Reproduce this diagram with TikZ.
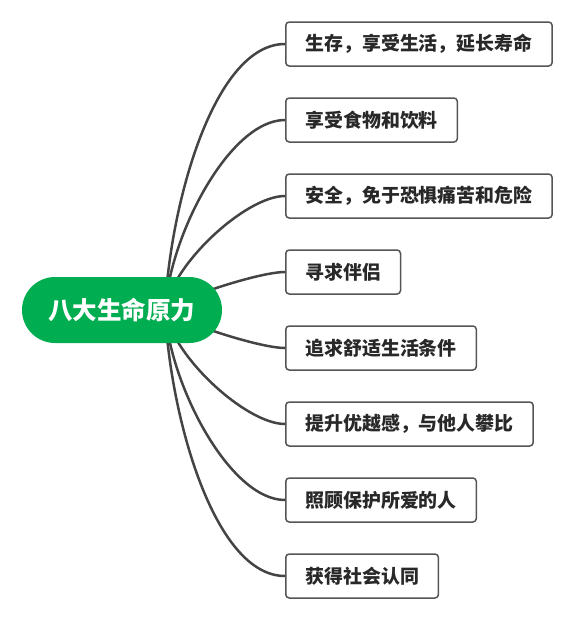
\documentclass[tikz,border=0pt]{standalone}
\usepackage{fontspec}
\setmainfont{Noto Sans CJK SC}
\usetikzlibrary{backgrounds}
\definecolor{rootgreen}{RGB}{0,173,80}
\definecolor{boxline}{RGB}{85,85,85}
\definecolor{conn}{RGB}{68,68,68}
\definecolor{txt}{RGB}{40,40,40}
\tikzset{
  rootbox/.style={fill=rootgreen, draw=none, rounded corners=33pt, minimum width=200pt, minimum height=66pt,
    text=white, font=\fontsize{24.5}{28}\selectfont\bfseries, inner sep=0pt},
  leafbox/.style={draw=boxline, line width=1.5pt, rounded corners=3.5pt, minimum height=44pt, anchor=west,
    inner xsep=19.5pt, inner ysep=0pt, text=txt, font=\fontsize{18.95}{22}\selectfont\bfseries},
  link/.style={draw=conn, line width=2.5pt, line cap=round}
}
\begin{document}
\begin{tikzpicture}[x=1pt,y=-1pt]
\useasboundingbox (0,0) rectangle (574,619);
\node[rootbox] (root) at (122,310) {八大生命原力};
\coordinate (s) at (165,310);
\node[leafbox] (b1) at (285,44) {生存，享受生活，延长寿命};
\node[leafbox] (b2) at (285,120) {享受食物和饮料};
\node[leafbox] (b3) at (285,196) {安全，免于恐惧痛苦和危险};
\node[leafbox] (b4) at (285,272) {寻求伴侣};
\node[leafbox] (b5) at (285,348) {追求舒适生活条件};
\node[leafbox] (b6) at (285,424) {提升优越感，与他人攀比};
\node[leafbox] (b7) at (285,500) {照顾保护所爱的人};
\node[leafbox] (b8) at (285,576) {获得社会认同};
\begin{scope}[on background layer]
\draw[link] (s) .. controls (170,204) and (214,44) .. (b1.west);
\draw[link] (s) .. controls (170,234) and (230,120) .. (b2.west);
\draw[link] (s) .. controls (172,264) and (246,196) .. (b3.west);
\draw[link] (s) .. controls (175,300) and (258,272) .. (b4.west);
\draw[link] (s) .. controls (175,320) and (258,348) .. (b5.west);
\draw[link] (s) .. controls (172,356) and (246,424) .. (b6.west);
\draw[link] (s) .. controls (170,386) and (230,500) .. (b7.west);
\draw[link] (s) .. controls (170,416) and (214,576) .. (b8.west);
\end{scope}
\end{tikzpicture}
\end{document}
